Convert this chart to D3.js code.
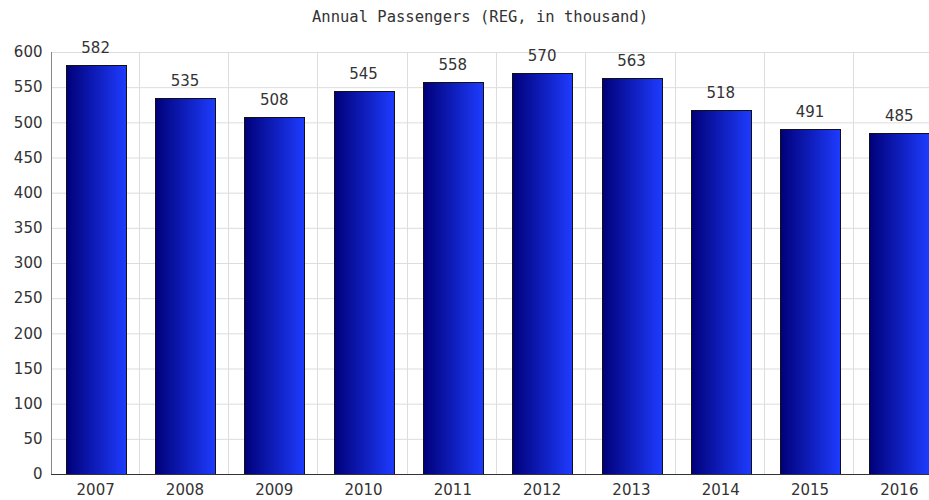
<!DOCTYPE html>
<html><head><meta charset="utf-8">
<script src="https://cdn.jsdelivr.net/npm/d3@7"></script>
<style>body{margin:0;background:#fff}svg{display:block}</style>
</head><body>
<svg id="c" width="929" height="500"></svg>
<script>
const title = "Annual Passengers (REG, in thousand)";
const years = ["2007","2008","2009","2010","2011","2012","2013","2014","2015","2016"];
const passengers = [582, 535, 508, 545, 558, 570, 563, 518, 491, 485];
const yTicks = [0,50,100,150,200,250,300,350,400,450,500,550,600];

(function(){
const svg = d3.select("#c");
const left = 51, bottom = 474, plotTop = 52;
const x = d3.scaleBand().domain(years).range([left, left + 10*89.3]).paddingInner(0.33).paddingOuter(0.165);
const y = d3.scaleLinear().domain([0, 600]).range([bottom, plotTop]);

const defs = svg.append("defs");
const g = defs.append("linearGradient").attr("id","bg").attr("x1","0").attr("x2","1").attr("y1","0").attr("y2","0");
g.append("stop").attr("offset","0").attr("stop-color","#000078");
g.append("stop").attr("offset","1").attr("stop-color","#1e3cff");

// grid
svg.append("g").selectAll("line").data(yTicks.slice(1)).join("line")
  .attr("x1", left).attr("x2", 929).attr("y1", d=>y(d)+0.5).attr("y2", d=>y(d)+0.5)
  .attr("stroke","#dddddd").attr("stroke-width",1);
svg.append("g").selectAll("line").data(years.slice(1)).join("line")
  .attr("x1", d=>Math.round(x(d) - x.step()*x.paddingInner()/2 - 1.5)+0.5)
  .attr("x2", d=>Math.round(x(d) - x.step()*x.paddingInner()/2 - 1.5)+0.5)
  .attr("y1", plotTop).attr("y2", bottom)
  .attr("stroke","#dddddd").attr("stroke-width",1);

// bars
svg.append("g").selectAll("rect").data(passengers).join("rect")
  .attr("x", (d,i)=>Math.round(x(years[i]))+0.5)
  .attr("width", Math.round(x.bandwidth()))
  .attr("y", d=>Math.round(y(d))+0.5)
  .attr("height", d=>bottom - Math.round(y(d)))
  .attr("fill","url(#bg)").attr("stroke","#111").attr("stroke-width",1);

// value labels
svg.append("g").selectAll("text").data(passengers).join("text")
  .attr("x", (d,i)=>x(years[i]) + x.bandwidth()/2)
  .attr("y", d=>y(d) - 12)
  .attr("text-anchor","middle")
  .attr("font-family","DejaVu Sans, Verdana, sans-serif").attr("font-size",15).attr("fill","#333")
  .text(d=>d);

// axes
const yAxis = svg.append("g").attr("transform",`translate(${left+0.5},0)`)
  .call(d3.axisLeft(y).tickValues(yTicks).tickSize(0).tickPadding(9));
yAxis.select(".domain").attr("stroke","#888").attr("d", `M0,${plotTop}V${bottom}`);
yAxis.selectAll("text").attr("font-family","DejaVu Sans, Verdana, sans-serif").attr("font-size",15).attr("fill","#333");

const xAxis = svg.append("g").attr("transform",`translate(0,${bottom+0.5})`)
  .call(d3.axisBottom(x).tickSize(0).tickPadding(10));
xAxis.select(".domain").attr("stroke","#333").attr("d", `M${left},0H929`);
xAxis.selectAll("text").attr("font-family","DejaVu Sans, Verdana, sans-serif").attr("font-size",15).attr("fill","#333");

svg.append("text").attr("x", 480).attr("y", 22).attr("text-anchor","middle")
  .attr("font-family","DejaVu Sans Mono, monospace").attr("font-size",15.5).attr("fill","#333")
  .text(title);
})();
</script>
</body></html>
